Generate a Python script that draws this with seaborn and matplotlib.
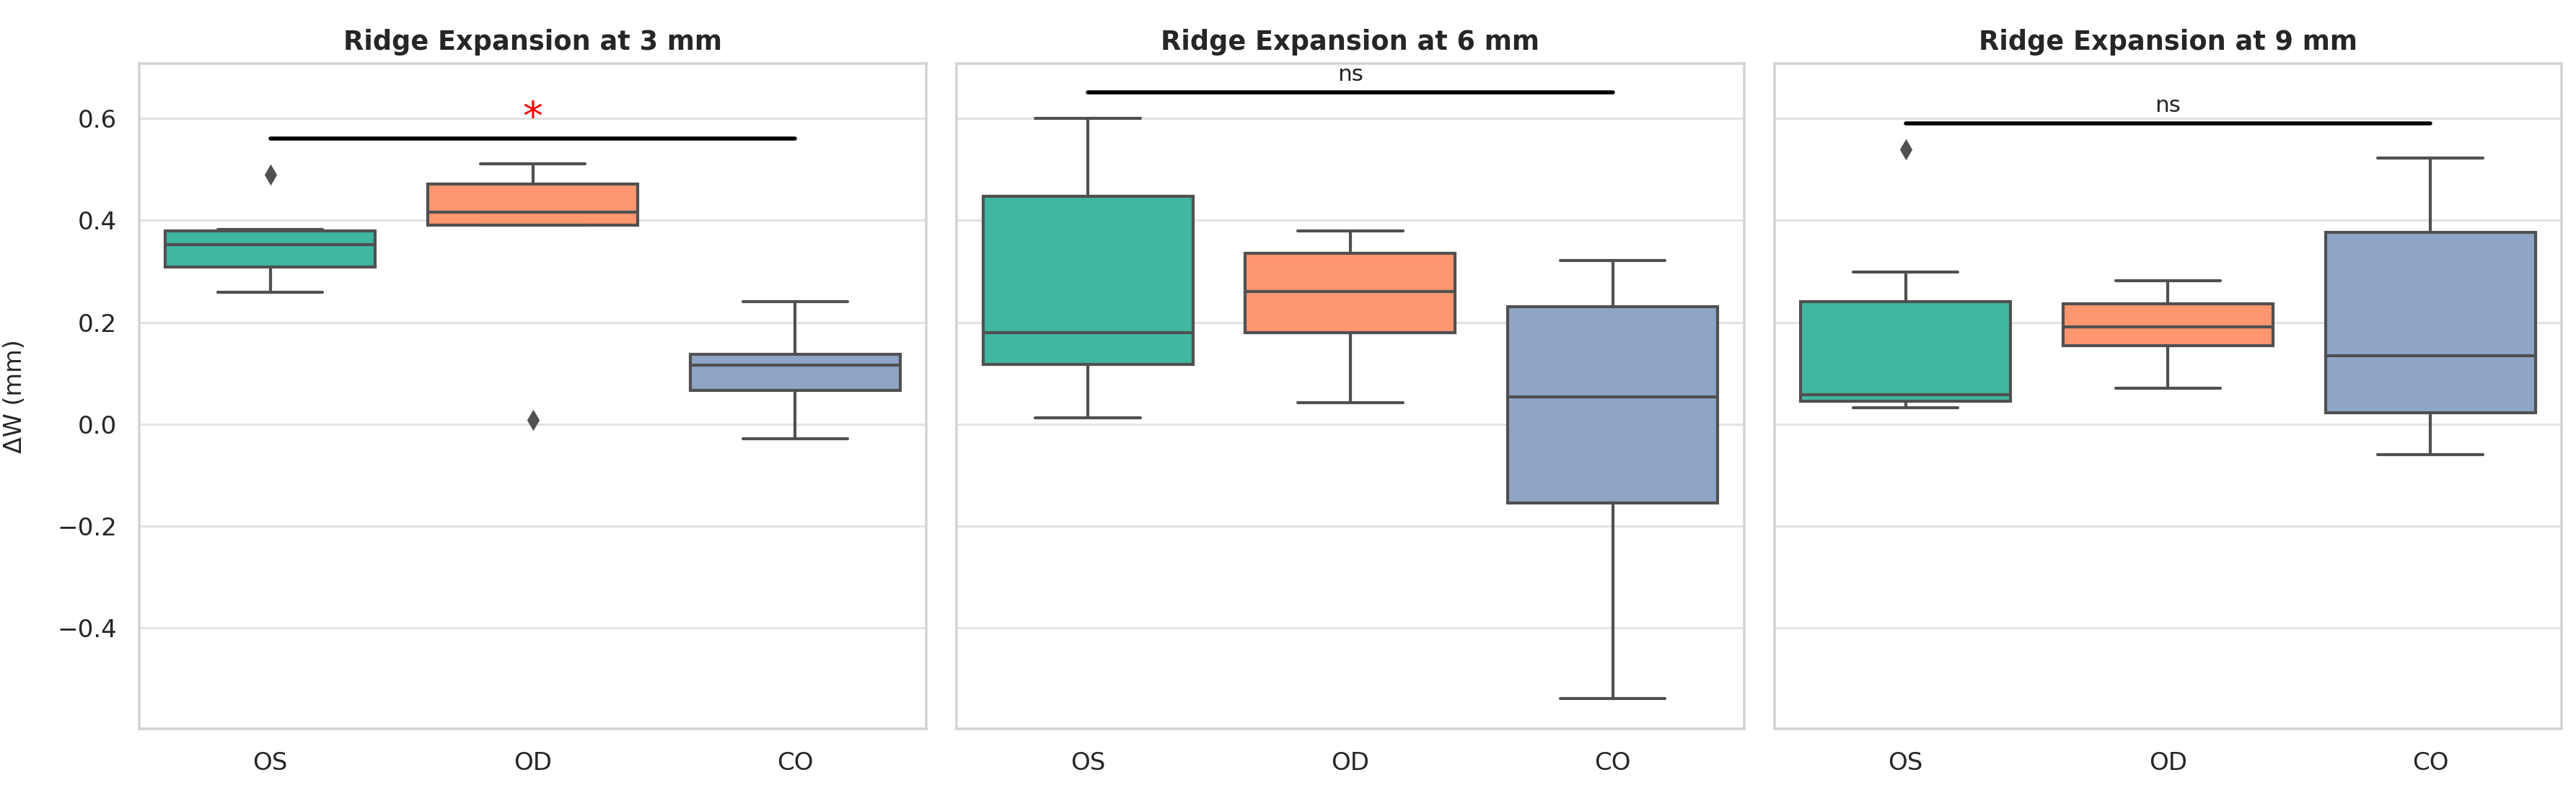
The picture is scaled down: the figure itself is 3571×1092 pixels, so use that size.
import pandas as pd
import numpy as np
import matplotlib
matplotlib.use("Agg")
import matplotlib.pyplot as plt
import seaborn as sns

# ------------------------------
# DATA (box statistics)
# ------------------------------

groups = ["OS", "OD", "CO"]
depths = ["3 mm", "6 mm", "9 mm"]

# per depth: one value per group (OS, OD, CO)
whisker_low_3 = [0.259, 0.391, -0.029]
q1_3 = [0.308, 0.391, 0.066]
median_3 = [0.352, 0.416, 0.116]
q3_3 = [0.379, 0.471, 0.137]
whisker_high_3 = [0.382, 0.511, 0.240]
outliers_3 = [0.490, 0.008, None]

whisker_low_6 = [0.012, 0.042, -0.538]
q1_6 = [0.117, 0.180, -0.155]
median_6 = [0.179, 0.261, 0.054]
q3_6 = [0.447, 0.336, 0.231]
whisker_high_6 = [0.601, 0.379, 0.321]
outliers_6 = [None, None, None]

whisker_low_9 = [0.032, 0.071, -0.060]
q1_9 = [0.045, 0.154, 0.023]
median_9 = [0.058, 0.191, 0.135]
q3_9 = [0.240, 0.236, 0.376]
whisker_high_9 = [0.299, 0.282, 0.522]
outliers_9 = [0.540, None, None]

significance = ["*", "ns", "ns"]

box_colors = ["#3fb7a1", "#fe9670", "#8fa5c6"]
line_color = "#505050"


# ------------------------------
# BUILD SAMPLES WITH THE SAME BOX SUMMARY
# ------------------------------

def box_sample(lo, q1, med, q3, hi, out):
    # 9 points -> quartiles land exactly on index 2, 4, 6
    if out is None:
        return [lo, q1, q1, med, med, med, q3, q3, hi]
    if out > hi:
        return [lo, q1, q1, med, med, med, q3, hi, out]
    return [out, lo, q1, med, med, med, q3, q3, hi]


stats = {
    "3 mm": (whisker_low_3, q1_3, median_3, q3_3, whisker_high_3, outliers_3),
    "6 mm": (whisker_low_6, q1_6, median_6, q3_6, whisker_high_6, outliers_6),
    "9 mm": (whisker_low_9, q1_9, median_9, q3_9, whisker_high_9, outliers_9),
}

rows = []
for depth in depths:
    lo, q1, med, q3, hi, out = stats[depth]
    for i, g in enumerate(groups):
        for v in box_sample(lo[i], q1[i], med[i], q3[i], hi[i], out[i]):
            rows.append({"Depth": depth, "Group": g, "dW": v})

df = pd.DataFrame(rows)

# ------------------------------
# PLOT
# ------------------------------

sns.set_theme(style="whitegrid")
plt.rcParams["font.family"] = ["DejaVu Sans"]
plt.rcParams["axes.edgecolor"] = "#d4d4d4"
plt.rcParams["grid.color"] = "#e2e2e2"

fig, axes = plt.subplots(1, 3, figsize=(17.855, 5.46), dpi=200, sharey=True)
fig.subplots_adjust(left=0.054, right=0.9944, bottom=0.0751, top=0.9194, wspace=0.0385)

for ax, depth, sig in zip(axes, depths, significance):

    sub = df[df["Depth"] == depth]

    sns.boxplot(
        data=sub,
        x="Group",
        y="dW",
        hue="Group",
        order=groups,
        hue_order=groups,
        palette=box_colors,
        saturation=1,
        width=0.8,
        linewidth=1.5,
        linecolor=line_color,
        flierprops=dict(marker="d", markerfacecolor=line_color,
                        markeredgecolor=line_color, markersize=6),
        legend=False,
        ax=ax
    )

    ax.set_title(f"Ridge Expansion at {depth}", fontsize=13.2,
                 fontweight="bold", pad=7)
    ax.set_xlabel("")
    ax.set_ylabel("")
    ax.xaxis.grid(False)
    ax.yaxis.grid(True, linewidth=1.1)
    ax.set_xlim(-0.5, 2.5)
    ax.tick_params(axis="both", labelsize=12.3, pad=11, length=0)
    for s in ax.spines.values():
        s.set_linewidth(1.3)
        s.set_color("#d4d4d4")

    # significance bar between OS and CO
    bar_y = sub["dW"].max() + 0.05
    ax.plot([0, 2], [bar_y, bar_y], color="black", linewidth=2)
    if sig == "*":
        ax.text(1, bar_y + 0.038, sig, ha="center", va="center",
                color="red", fontsize=20)
    else:
        ax.text(1, bar_y + 0.035, sig, ha="center", va="center",
                color="#222222", fontsize=11.2)

axes[0].set_ylim(-0.598, 0.708)
axes[0].set_yticks([-0.4, -0.2, 0.0, 0.2, 0.4, 0.6])
axes[0].set_ylabel("ΔW (mm)", fontsize=12)
axes[0].yaxis.set_label_coords(-0.1427, 0.5)

plt.savefig("out.png", dpi=200)
